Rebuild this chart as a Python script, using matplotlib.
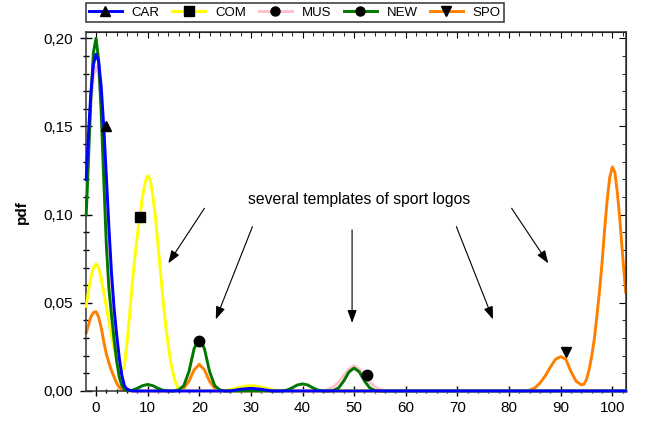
import matplotlib
matplotlib.use("Agg")
import matplotlib.pyplot as plt
from matplotlib.ticker import MultipleLocator, FuncFormatter
from matplotlib.lines import Line2D

plt.rcParams['font.family'] = ['Liberation Sans', 'DejaVu Sans']

# --- data ------------------------------------------------------------------
car_x = [-1.9, -1.5, -1, -0.5, 0, 0.5, 1, 1.5, 2, 2.5, 3, 3.5, 4, 4.5, 5, 5.5, 6, 7,
         26, 28, 30, 32, 34, 102.6]
car_y = [0.120, 0.144, 0.169, 0.185, 0.191, 0.187, 0.173, 0.150, 0.122, 0.093, 0.067,
         0.047, 0.032, 0.019, 0.009, 0.003, 0.001, 0.0,
         0.0, 0.0010, 0.0015, 0.0010, 0.0, 0.0]

com_x = [-1.9, -1.5, -1, -0.5, 0, 0.5, 1, 1.5, 2, 2.5, 3, 3.5, 4, 4.5, 5, 5.5, 6, 6.5,
         7, 7.5, 8, 8.5, 9, 9.5, 10, 10.5, 11, 11.5, 12, 12.5, 13, 13.5, 14, 14.5, 15,
         15.5, 16, 17, 24, 25, 26, 27, 28, 29, 30, 31, 32, 33, 34, 35, 36, 102.6]
com_y = [0.048, 0.056, 0.064, 0.070, 0.072, 0.070, 0.064, 0.056, 0.048, 0.039, 0.031,
         0.024, 0.018, 0.013, 0.011, 0.014, 0.027, 0.043, 0.060, 0.075, 0.088, 0.099,
         0.110, 0.118, 0.122, 0.120, 0.111, 0.099, 0.083, 0.067, 0.051, 0.037, 0.026,
         0.016, 0.009, 0.004, 0.001, 0.0002, 0.0, 0.0003, 0.0008, 0.0015, 0.0022,
         0.0028, 0.0030, 0.0028, 0.0022, 0.0015, 0.0008, 0.0003, 0.0, 0.0]

mus_x = [-1.9, -1.5, -1, -0.5, 0, 0.5, 1, 1.5, 2, 2.5, 3, 3.5, 4, 4.5, 5, 5.5, 6, 7,
         43, 44, 45, 46, 47, 48, 49, 50, 51, 52, 53, 54, 55, 56, 57, 102.6]
mus_y = [0.112, 0.138, 0.162, 0.178, 0.184, 0.180, 0.166, 0.143, 0.115, 0.087, 0.062,
         0.042, 0.027, 0.016, 0.008, 0.003, 0.001, 0.0,
         0.0, 0.0003, 0.0009, 0.0024, 0.0050, 0.0087, 0.0125, 0.0143, 0.0125, 0.0087,
         0.0050, 0.0024, 0.0009, 0.0003, 0.0, 0.0]

new_x = [-1.9, -1.5, -1, -0.5, 0, 0.5, 1, 1.5, 2, 2.5, 3, 3.5, 4, 4.5, 5, 5.5, 6, 6.5,
         7, 8, 9, 10, 11, 12, 13, 14, 15, 16, 17, 18, 19, 20, 21, 22, 23, 24, 25,
         36, 37, 38, 39, 40, 41, 42, 43, 44, 45, 46, 47, 48, 49, 50, 51, 52, 53, 54,
         55, 102.6]
new_y = [0.100, 0.128, 0.166, 0.192, 0.200, 0.188, 0.158, 0.120, 0.083, 0.058, 0.043,
         0.029, 0.017, 0.008, 0.003, 0.001, 0.0003, 0.0002, 0.0004, 0.0015, 0.0030,
         0.0037, 0.0030, 0.0015, 0.0004, 0.0, 0.0, 0.0006, 0.0030, 0.0110, 0.0240,
         0.0300, 0.0240, 0.0110, 0.0030, 0.0006, 0.0, 0.0, 0.0005, 0.0018, 0.0034,
         0.0040, 0.0034, 0.0018, 0.0005, 0.0, 0.0, 0.0003, 0.0018, 0.0057, 0.0108,
         0.0130, 0.0108, 0.0057, 0.0018, 0.0003, 0.0, 0.0]

spo_x = [-1.9, -1.5, -1, -0.5, 0, 0.5, 1, 1.5, 2, 2.5, 3, 3.5, 4, 4.5, 5, 6, 7,
         15, 16, 17, 18, 19, 20, 21, 22, 23, 24, 25,
         82, 83, 84, 85, 86, 87, 88, 89, 90, 91, 92, 93, 94, 94.5, 95, 95.5, 96, 96.5,
         97, 97.5, 98, 98.5, 99, 99.5, 100, 100.5, 101, 101.5, 102, 102.6]
spo_y = [0.033, 0.037, 0.042, 0.0445, 0.045, 0.042, 0.036, 0.028, 0.021, 0.016,
         0.0115, 0.008, 0.0045, 0.002, 0.0008, 0.0002, 0.0,
         0.0, 0.0003, 0.0015, 0.0055, 0.0120, 0.0151, 0.0120, 0.0055, 0.0015, 0.0003,
         0.0,
         0.0, 0.0001, 0.0005, 0.0017, 0.0045, 0.0085, 0.0135, 0.0180, 0.0195, 0.0180,
         0.0110, 0.0055, 0.0035, 0.0038, 0.0065, 0.0120, 0.0195, 0.0290, 0.0420,
         0.0560, 0.0720, 0.0910, 0.1080, 0.1210, 0.1270, 0.1240, 0.1120, 0.0960,
         0.0770, 0.0560]

labels = ['CAR', 'COM', 'MUS', 'NEW', 'SPO']
colors = ['#0000ff', '#ffff00', '#ffc0cb', '#007800', '#ff8000']
markers = ['^', 's', 'o', 'o', 'v']
mark_x = [2.0, 8.5, 52.5, 20.0, 91.0]
mark_y = [0.1505, 0.0987, 0.0091, 0.0285, 0.0223]

note = 'several templates of sport logos'
note_pos = (50.9, 0.1083)
arrow_tail = [(21.0, 0.1036), (30.3, 0.0932), (49.6, 0.0913), (69.8, 0.0932), (80.5, 0.1036)]
arrow_head = [(14.0, 0.0724), (23.2, 0.0406), (49.6, 0.0386), (76.9, 0.0406), (87.6, 0.0724)]

series_x = [car_x, com_x, mus_x, new_x, spo_x]
series_y = [car_y, com_y, mus_y, new_y, spo_y]
zorders = [6, 3, 4, 5, 2]

# --- figure -----------------------------------------------------------------
fig = plt.figure(figsize=(6.48, 4.21), dpi=100)
ax = fig.add_axes([0.1327, 0.0713, 0.8329, 0.852])

for xs, ys, c, z in zip(series_x, series_y, colors, zorders):
    ax.plot(xs, ys, color=c, lw=2.1, zorder=z, clip_on=False, solid_joinstyle='round')

for mx, my, m in zip(mark_x, mark_y, markers):
    ax.plot(mx, my, marker=m, ls='none', color='black', ms=7.5, zorder=8)

ax.text(note_pos[0], note_pos[1], note, ha='center', va='center', fontsize=11.3)
for (tx, ty), (hx, hy) in zip(arrow_tail, arrow_head):
    ax.annotate('', xy=(hx, hy), xytext=(tx, ty),
                arrowprops=dict(arrowstyle='-|>,head_length=0.55,head_width=0.2',
                                color='black', lw=0.8, shrinkA=0, shrinkB=0,
                                mutation_scale=14))

ax.set_xlim(-1.94, 102.6)
ax.set_ylim(0, 0.2034)

comma = FuncFormatter(lambda v, p: f"{v:.2f}".replace('.', ','))
ax.xaxis.set_major_locator(MultipleLocator(10))
ax.xaxis.set_minor_locator(MultipleLocator(2))
ax.yaxis.set_major_locator(MultipleLocator(0.05))
ax.yaxis.set_minor_locator(MultipleLocator(0.01))
ax.yaxis.set_major_formatter(comma)

ax.tick_params(axis='x', which='major', direction='inout', length=7, width=1, labelsize=11)
ax.tick_params(axis='x', which='minor', direction='inout', length=3.5, width=1)
ax.tick_params(axis='y', which='major', direction='inout', length=8, width=1,
               labelsize=11, pad=5)
ax.tick_params(axis='y', which='minor', direction='inout', length=4, width=1)

top = ax.secondary_xaxis('top')
top.xaxis.set_major_locator(MultipleLocator(10))
top.xaxis.set_minor_locator(MultipleLocator(2))
top.tick_params(which='both', direction='in', labeltop=False)
top.tick_params(which='major', length=4)
top.tick_params(which='minor', length=3)
right = ax.secondary_yaxis('right')
right.yaxis.set_major_locator(MultipleLocator(0.05))
right.yaxis.set_minor_locator(MultipleLocator(0.01))
right.tick_params(which='both', direction='in', labelright=False)
right.tick_params(which='major', length=5)
right.tick_params(which='minor', length=3)

for sp in ax.spines.values():
    sp.set_color('#333333')
    sp.set_linewidth(1.1)

ax.set_ylabel('pdf', fontweight='bold', fontsize=11, labelpad=11)

handles = [Line2D([], [], color=c, lw=2.1, marker=m, ms=6.5, mfc='black', mec='black')
           for c, m in zip(colors, markers)]
leg = ax.legend(handles, labels, loc='lower left', bbox_to_anchor=(0.0, 1.03),
                ncol=5, frameon=True, fancybox=False, fontsize=9.5, borderaxespad=0,
                handlelength=2.5, handletextpad=0.75, columnspacing=0.95,
                borderpad=0.22)
leg.get_frame().set_edgecolor('black')
leg.get_frame().set_linewidth(1.1)

fig.savefig('out.png', dpi=100)
